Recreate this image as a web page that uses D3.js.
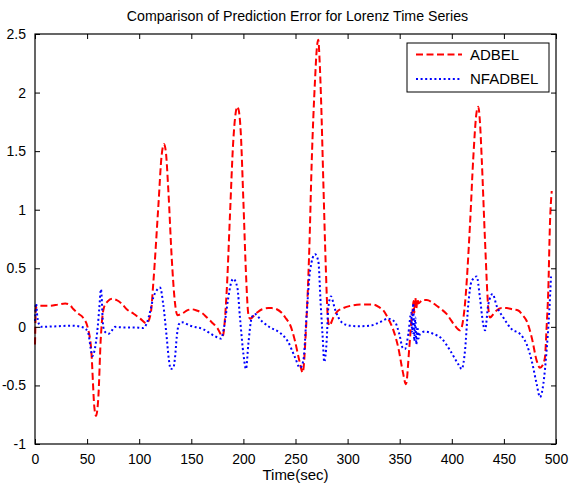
<!DOCTYPE html>
<html>
<head>
<meta charset="utf-8">
<script src="https://cdn.jsdelivr.net/npm/d3@7"></script>
<style>
  body { margin: 0; background: #fff; }
  svg { display: block; font-family: "Liberation Sans", Arial, sans-serif; }
</style>
</head>
<body>
<div id="chart"></div>
<script>
const width = 570;
const height = 488;
const margin = { top: 34, right: 14, bottom: 44, left: 35 };

const title = "Comparison of Prediction Error for Lorenz Time Series";
const xLabel = "Time(sec)";
const seriesNames = ["ADBEL", "NFADBEL"];
const xTicks = [0, 50, 100, 150, 200, 250, 300, 350, 400, 450, 500];
const yTicks = [-1, -0.5, 0, 0.5, 1, 1.5, 2, 2.5];

// ADBEL error
const adbelT = [0, 1, 5, 14, 22, 29, 33, 37, 42, 46, 51, 54, 57, 58.5, 60.8, 63, 66, 70, 74, 78, 83, 88, 95, 101, 107,
  111, 113.5, 118.3, 121.6, 123.8, 125.5, 128, 131.2, 134.4, 136.6, 142.3, 146, 150.4, 155, 160, 165, 169.6, 175, 180,
  184, 187, 190.3, 192.5, 194, 195.5, 197.4, 200, 202.5, 204.7, 206.3, 212.8, 218, 224, 227, 232, 236.7, 241, 244.7,
  249.5, 253.7, 256.9, 260, 263.3, 265.5, 268.7, 270.5, 271.9, 273, 274.5, 276.7, 279, 281, 282.4, 286.3, 290, 295.9,
  303, 312, 320, 324.7, 330, 334.3, 339, 344, 348.7, 352.9, 356, 359.2, 361.5, 362.5, 363.3, 364, 365, 366, 367, 368,
  372, 376, 381, 385.5, 390, 395, 399, 403, 408, 412.7, 417.5, 420.6, 423.9, 425.4, 427, 428.7, 431.9, 435, 436.7, 440,
  443, 448, 452.7, 458, 463.8, 468, 471.9, 476.7, 481.5, 484.6, 487, 489.4, 491, 492.6, 494.2, 495.9];
const adbelV = [-0.15, 0.17, 0.18, 0.18, 0.19, 0.2, 0.19, 0.15, 0.11, 0.08, -0.02, -0.2, -0.69, -0.76, -0.6, -0.12, 0.16,
  0.22, 0.24, 0.23, 0.2, 0.15, 0.11, 0.07, 0.03, 0.11, 0.37, 1.02, 1.47, 1.56, 1.5, 1.16, 0.59, 0.2, 0.1, 0.12, 0.14,
  0.15, 0.14, 0.12, 0.08, 0.04, -0.01, -0.08, 0.31, 0.93, 1.59, 1.82, 1.88, 1.85, 1.67, 1.07, 0.45, 0.11, 0.07, 0.12,
  0.15, 0.16, 0.16, 0.15, 0.12, 0.07, 0.02, -0.12, -0.29, -0.39, -0.03, 0.68, 1.39, 2.1, 2.38, 2.45, 2.3, 1.95, 1.24,
  0.53, 0.08, 0.01, 0.08, 0.13, 0.16, 0.18, 0.19, 0.19, 0.19, 0.17, 0.14, 0.07, -0.03, -0.18, -0.38, -0.49, -0.18, 0.08,
  0.15, 0.22, 0.12, 0.25, 0.16, 0.24, 0.2, 0.23, 0.23, 0.21, 0.18, 0.15, 0.11, 0.06, 0.01, -0.03, 0.2, 0.88, 1.44, 1.84,
  1.88, 1.75, 1.44, 0.73, 0.165, 0.08, 0.11, 0.14, 0.16, 0.16, 0.15, 0.14, 0.1, 0.05, -0.09, -0.29, -0.35, -0.33, -0.26,
  0.0, 0.31, 0.88, 1.16];

// NFADBEL error
const nfadbelT = [0, 1, 2.2, 4, 6.4, 20.8, 35, 46.4, 51, 53.4, 55, 57.6, 60.2, 61.7, 63.3, 65.5, 68, 70.4, 73, 76.8, 84.8,
  95, 104, 107.2, 111, 113.5, 116, 120, 123.1, 126.4, 128.5, 130.2, 132.8, 134.5, 136, 138, 140.8, 148.8, 161.5, 172.7,
  178.5, 181.4, 185.5, 188, 190.3, 194.2, 196.7, 200, 202.5, 204.7, 208, 211, 217.5, 225.5, 235, 243, 249.5, 254.3,
  257.5, 260.7, 264, 268.7, 271.9, 274.2, 276.1, 277.6, 279.9, 281.5, 284, 287.9, 294.3, 302.3, 310, 321.5, 331, 339,
  345.5, 349.6, 352.9, 355, 358.3, 361, 362, 363, 364, 365, 366, 367, 368, 369.5, 374.3, 382.3, 390.3, 398.3, 406.3,
  409.5, 412.7, 415.8, 419, 423.9, 427, 430.2, 431.9, 435, 439.2, 443, 449.4, 457.5, 465.4, 471.9, 476.7, 481.5, 484.6,
  487.8, 491, 493.6, 495.2];
const nfadbelV = [0.05, 0.2, 0.09, 0.02, 0.0, 0.005, 0.01, -0.005, -0.05, -0.18, -0.25, -0.18, 0.0, 0.16, 0.32, 0.0,
  -0.05, -0.06, -0.04, 0.0, -0.005, -0.005, -0.01, 0.03, 0.15, 0.25, 0.3, 0.335, 0.19, -0.09, -0.28, -0.36, -0.35, -0.25,
  -0.09, 0.02, 0.04, 0.01, -0.02, -0.08, -0.1, -0.005, 0.25, 0.37, 0.41, 0.335, 0.08, -0.23, -0.36, -0.15, 0.08, 0.11,
  0.05, -0.005, -0.05, -0.13, -0.26, -0.35, -0.29, 0.11, 0.48, 0.62, 0.56, 0.19, -0.09, -0.3, -0.12, 0.165, 0.26, 0.15,
  0.04, 0.01, 0.005, 0.01, 0.04, 0.07, 0.04, -0.06, -0.18, -0.19, -0.06, 0.12, -0.05, 0.2, -0.12, 0.08, -0.15, 0.0, -0.1,
  -0.06, -0.04, -0.06, -0.1, -0.2, -0.32, -0.36, -0.2, 0.19, 0.39, 0.43, 0.25, 0.02, -0.03, 0.19, 0.28, 0.18, 0.08,
  -0.02, -0.06, -0.15, -0.29, -0.49, -0.6, -0.49, -0.2, 0.14, 0.43];

const series = [
  { name: seriesNames[0], t: adbelT, v: adbelV, color: "#ff0000", dash: "7,3.5" },
  { name: seriesNames[1], t: nfadbelT, v: nfadbelV, color: "#0000ff", dash: "2,2.6" }
];

const x = d3.scaleLinear().domain([0, 500]).range([margin.left, width - margin.right]);
const y = d3.scaleLinear().domain([-1, 2.5]).range([height - margin.bottom, margin.top]);

const svg = d3.select("#chart")
  .append("svg")
  .attr("width", width)
  .attr("height", height);

svg.append("rect")
  .attr("width", width)
  .attr("height", height)
  .attr("fill", "#fff");

const line = d3.line()
  .curve(d3.curveMonotoneX)
  .x(d => x(d[0]))
  .y(d => y(d[1]));

svg.append("g")
  .attr("fill", "none")
  .attr("stroke-width", 2)
  .selectAll("path")
  .data(series)
  .join("path")
  .attr("stroke", d => d.color)
  .attr("stroke-dasharray", d => d.dash)
  .attr("d", d => line(d.t.map((t, i) => [t, d.v[i]])));

// axes: ticks inside on all four sides, matlab style
const tickLen = 5;
const fmt = d => String(d);

const xBottom = svg.append("g")
  .attr("transform", `translate(0,${height - margin.bottom})`)
  .call(d3.axisBottom(x).tickValues(xTicks).tickFormat(fmt).tickSizeInner(-tickLen).tickSizeOuter(0).tickPadding(10));
const xTop = svg.append("g")
  .attr("transform", `translate(0,${margin.top})`)
  .call(d3.axisTop(x).tickValues(xTicks).tickFormat("").tickSizeInner(-tickLen).tickSizeOuter(0));
const yLeft = svg.append("g")
  .attr("transform", `translate(${margin.left},0)`)
  .call(d3.axisLeft(y).tickValues(yTicks).tickFormat(fmt).tickSizeInner(-tickLen).tickSizeOuter(0).tickPadding(9));
const yRight = svg.append("g")
  .attr("transform", `translate(${width - margin.right},0)`)
  .call(d3.axisRight(y).tickValues(yTicks).tickFormat("").tickSizeInner(-tickLen).tickSizeOuter(0));

[xBottom, xTop, yLeft, yRight].forEach(g => {
  g.select(".domain").remove();
  g.selectAll("line").attr("stroke", "#000");
  g.selectAll("text").attr("fill", "#000").attr("font-size", 14).attr("font-family", "Liberation Sans, Arial, sans-serif");
});

svg.append("rect")
  .attr("x", x(0))
  .attr("y", y(2.5))
  .attr("width", x(500) - x(0))
  .attr("height", y(-1) - y(2.5))
  .attr("fill", "none")
  .attr("stroke", "#000")
  .attr("stroke-width", 1.2);

svg.append("text")
  .attr("x", (x(0) + x(500)) / 2 + 2)
  .attr("y", 21)
  .attr("text-anchor", "middle")
  .attr("font-size", 14.2)
  .text(title);

svg.append("text")
  .attr("x", (x(0) + x(500)) / 2)
  .attr("y", 480)
  .attr("text-anchor", "middle")
  .attr("font-size", 15)
  .text(xLabel);

// legend
const legend = svg.append("g").attr("transform", "translate(407,43)");
legend.append("rect")
  .attr("width", 142)
  .attr("height", 49)
  .attr("fill", "#fff")
  .attr("stroke", "#000");

const item = legend.selectAll("g.item")
  .data(series)
  .join("g")
  .attr("class", "item")
  .attr("transform", (d, i) => `translate(0,${11.5 + i * 24.5})`);

item.append("line")
  .attr("x1", 9)
  .attr("x2", 55)
  .attr("stroke", d => d.color)
  .attr("stroke-width", 2)
  .attr("stroke-dasharray", d => d.dash);

item.append("text")
  .attr("x", 63)
  .attr("dy", "0.36em")
  .attr("font-size", 15)
  .text(d => d.name);
</script>
</body>
</html>
